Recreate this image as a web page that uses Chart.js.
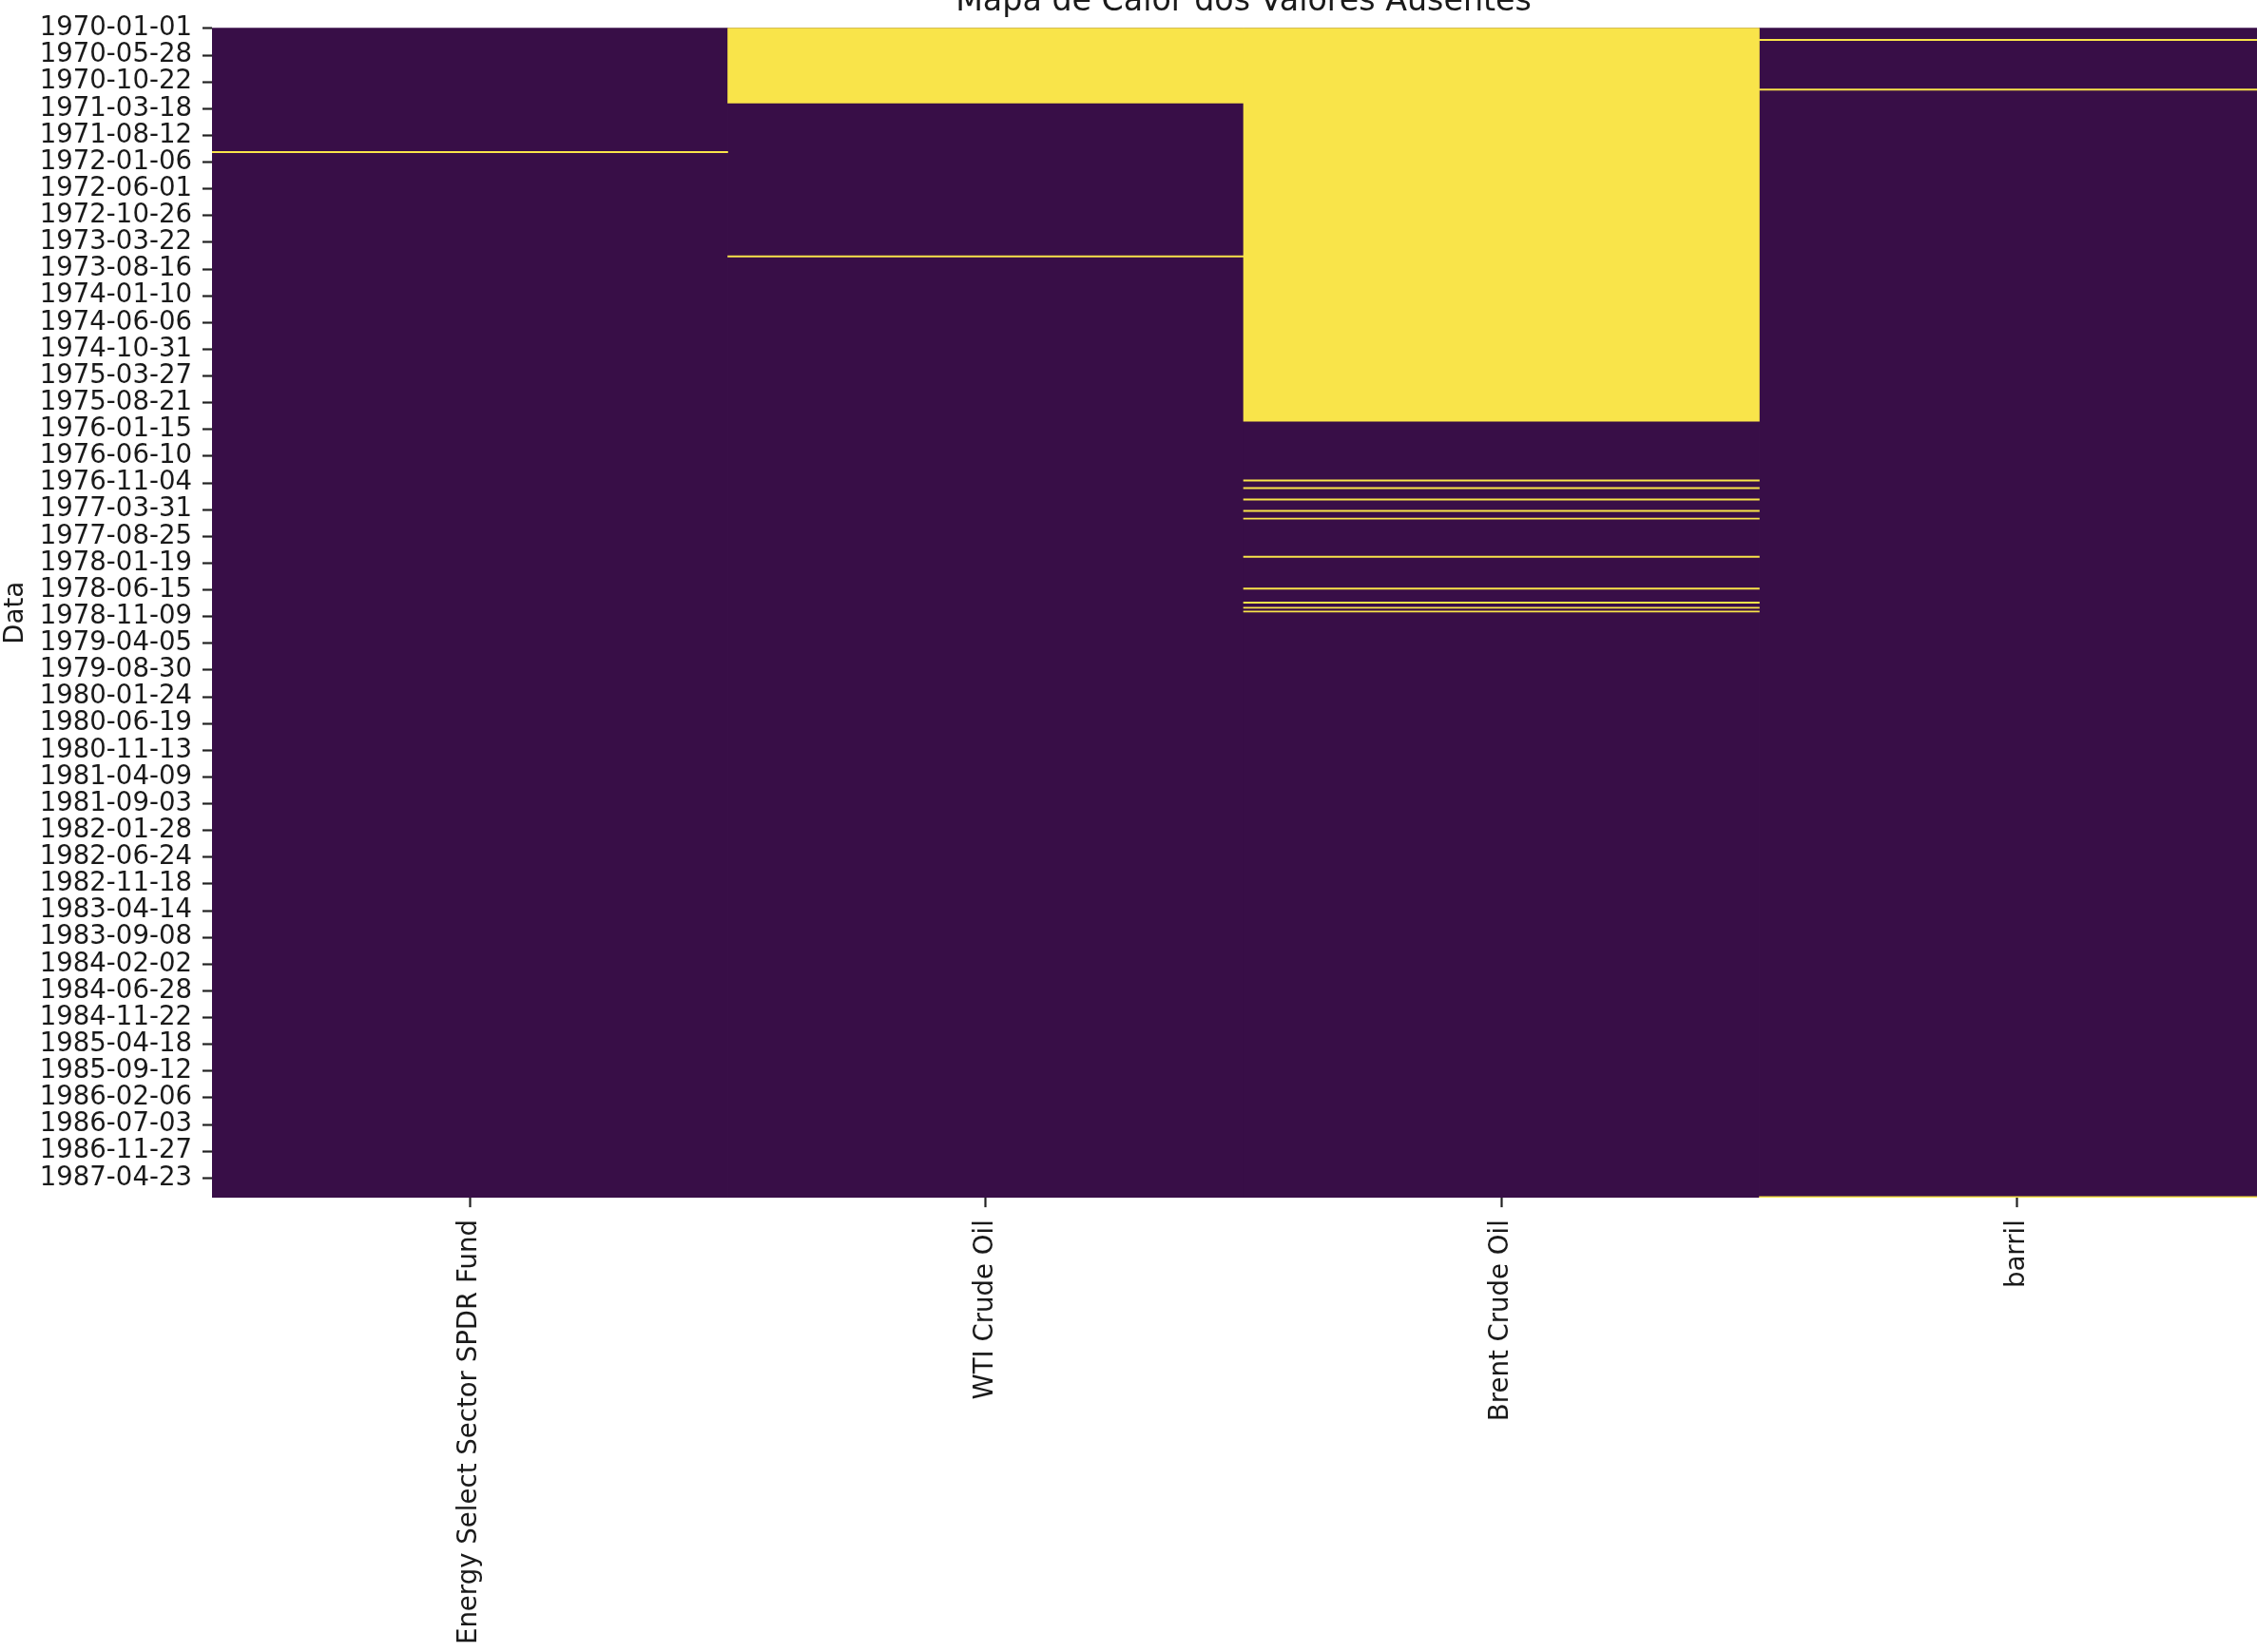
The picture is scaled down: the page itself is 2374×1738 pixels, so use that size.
<!DOCTYPE html>
<html>
<head>
<meta charset="utf-8">
<script src="https://cdn.jsdelivr.net/npm/chart.js@4.4.1/dist/chart.umd.min.js"></script>
<style>
  html, body { margin: 0; padding: 0; background: #ffffff; overflow: hidden; width: 2374px; height: 1738px; }
  #wrap { position: absolute; left: 0; top: -30px; width: 2400px; height: 1800px; }
  canvas { display: block; }
</style>
</head>
<body>
<div id="wrap"><canvas id="c" width="2400" height="1800"></canvas></div>
<script>
// ---- data ----
const categories = ['Energy Select Sector SPDR Fund', 'WTI Crude Oil', 'Brent Crude Oil', 'barril'];
const rowCount = 919; // weekly rows starting 1970-01-01

// missing-value runs per column: [firstRow, lastRow] (inclusive)
const energyMissing = [[97, 97]];
const wtiMissing = [[0, 58], [179, 179]];
const brentMissing = [[0, 308], [355, 355], [361, 361], [370, 370], [379, 379], [385, 385],
                      [415, 415], [440, 440], [451, 451], [455, 455], [458, 458]];
const barrilMissing = [[9, 9], [48, 48], [918, 918]];

const dateLabels = ['1970-01-01','1970-05-28','1970-10-22','1971-03-18','1971-08-12','1972-01-06',
  '1972-06-01','1972-10-26','1973-03-22','1973-08-16','1974-01-10','1974-06-06','1974-10-31',
  '1975-03-27','1975-08-21','1976-01-15','1976-06-10','1976-11-04','1977-03-31','1977-08-25',
  '1978-01-19','1978-06-15','1978-11-09','1979-04-05','1979-08-30','1980-01-24','1980-06-19',
  '1980-11-13','1981-04-09','1981-09-03','1982-01-28','1982-06-24','1982-11-18','1983-04-14',
  '1983-09-08','1984-02-02','1984-06-28','1984-11-22','1985-04-18','1985-09-12','1986-02-06',
  '1986-07-03','1986-11-27','1987-04-23'];
const tickStep = 21;

// ---- build chart data ----
const missingByColumn = [energyMissing, wtiMissing, brentMissing, barrilMissing];
const missingPoints = [];
missingByColumn.forEach((runs, c) => {
  runs.forEach(([a, b]) => missingPoints.push({ x: categories[c], y: [a, b + 1] }));
});
const presentBars = categories.map(() => [0, rowCount]);

const PURPLE = '#380e47';
const YELLOW = '#f9e44a';
const TEXT = '#1a1a1a';
const FONT = 'DejaVu Sans';

new Chart(document.getElementById('c'), {
  type: 'bar',
  data: {
    labels: categories,
    datasets: [
      {
        label: 'ausente',
        data: missingPoints,
        backgroundColor: YELLOW,
        borderWidth: 0,
        grouped: false,
        categoryPercentage: 1,
        barPercentage: 1,
        inflateAmount: 0.3,
        order: 0
      },
      {
        label: 'presente',
        data: presentBars,
        backgroundColor: PURPLE,
        borderWidth: 0,
        grouped: false,
        categoryPercentage: 1,
        barPercentage: 1,
        inflateAmount: 0.4,
        order: 1
      }
    ]
  },
  options: {
    responsive: false,
    animation: false,
    layout: { padding: { left: 0, right: 7, top: 0, bottom: 0 } },
    plugins: {
      legend: { display: false },
      tooltip: { enabled: false },
      title: {
        display: true,
        text: 'Mapa de Calor dos Valores Ausentes',
        fullSize: false,
        color: TEXT,
        font: { family: FONT, size: 33.3, weight: 'normal' },
        padding: { top: 12.4, bottom: 6.97 }
      }
    },
    scales: {
      x: {
        type: 'category',
        offset: true,
        border: { display: false },
        grid: { display: true, offset: false, drawOnChartArea: false, drawTicks: true,
                tickLength: 10, tickWidth: 2.2, tickColor: '#222' },
        ticks: {
          autoSkip: false, minRotation: 90, maxRotation: 90, padding: 13,
          color: TEXT, font: { family: FONT, size: 27.6 }
        },
        afterFit: (s) => { s.height = 1800 - 1290.1; }
      },
      y: {
        type: 'linear',
        reverse: true,
        min: 0,
        max: rowCount,
        border: { display: false },
        grid: { display: true, drawOnChartArea: false, drawTicks: true,
                tickLength: 10, tickWidth: 2.2, tickColor: '#222' },
        ticks: {
          autoSkip: false, padding: 11, color: TEXT,
          font: { family: FONT, size: 27.6 },
          callback: (v, i) => dateLabels[i]
        },
        afterBuildTicks: (s) => {
          s.ticks = dateLabels.map((_, i) => ({ value: i * tickStep + 0.5 }));
        },
        title: {
          display: true, text: 'Data', color: TEXT,
          font: { family: FONT, size: 27.6 }, padding: { top: 0, bottom: 0 }
        },
        afterFit: (s) => { s.width = 223; }
      }
    }
  }
});
</script>
</body>
</html>
